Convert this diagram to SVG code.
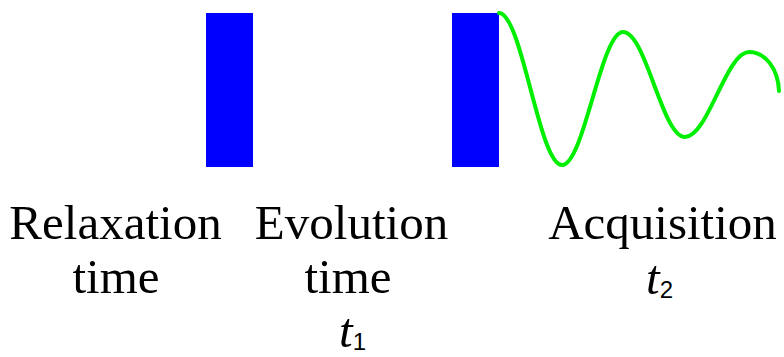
<svg xmlns="http://www.w3.org/2000/svg" width="784" height="357" viewBox="0 0 784 357">
  <style>
    .pulse { fill: #0000ff; }
    .wave { fill: none; stroke: #00ee00; stroke-width: 4; stroke-linecap: round; }
    .lbl { font-family: "Liberation Serif", "Times New Roman", serif; font-size: 49px; fill: #000; text-anchor: middle; }
    .it { font-family: "Liberation Serif", "Times New Roman", serif; font-size: 49px; font-style: italic; fill: #000; }
    .sub { font-family: "Liberation Sans", Arial, sans-serif; font-size: 24px; font-style: normal; }
  </style>
  <rect width="784" height="357" fill="#ffffff"/>
  <g id="pulse1">
    <rect class="pulse" x="206" y="13" width="47" height="154"/>
  </g>
  <g id="pulse2">
    <rect class="pulse" x="452" y="13" width="47" height="154"/>
  </g>
  <g id="fid">
    <path class="wave" d="M499,13 C522,13 539,165 562,165 C584,165 601,32 623,32 C646,32 662,137 685,137 C708,137 726,52 749,52 C765,52 778,68 779,91"/>
  </g>
  <g id="relaxation">
    <text class="lbl" x="115.5" y="239">Relaxation</text>
    <text class="lbl" x="116" y="293">time</text>
  </g>
  <g id="evolution">
    <text class="lbl" x="351.5" y="239">Evolution</text>
    <text class="lbl" x="348" y="293">time</text>
    <text class="it" x="339" y="347">t<tspan class="sub" dy="3">1</tspan></text>
  </g>
  <g id="acquisition">
    <text class="lbl" x="662.5" y="239">Acquisition</text>
    <text class="it" x="646" y="294">t<tspan class="sub" dy="4">2</tspan></text>
  </g>
</svg>
